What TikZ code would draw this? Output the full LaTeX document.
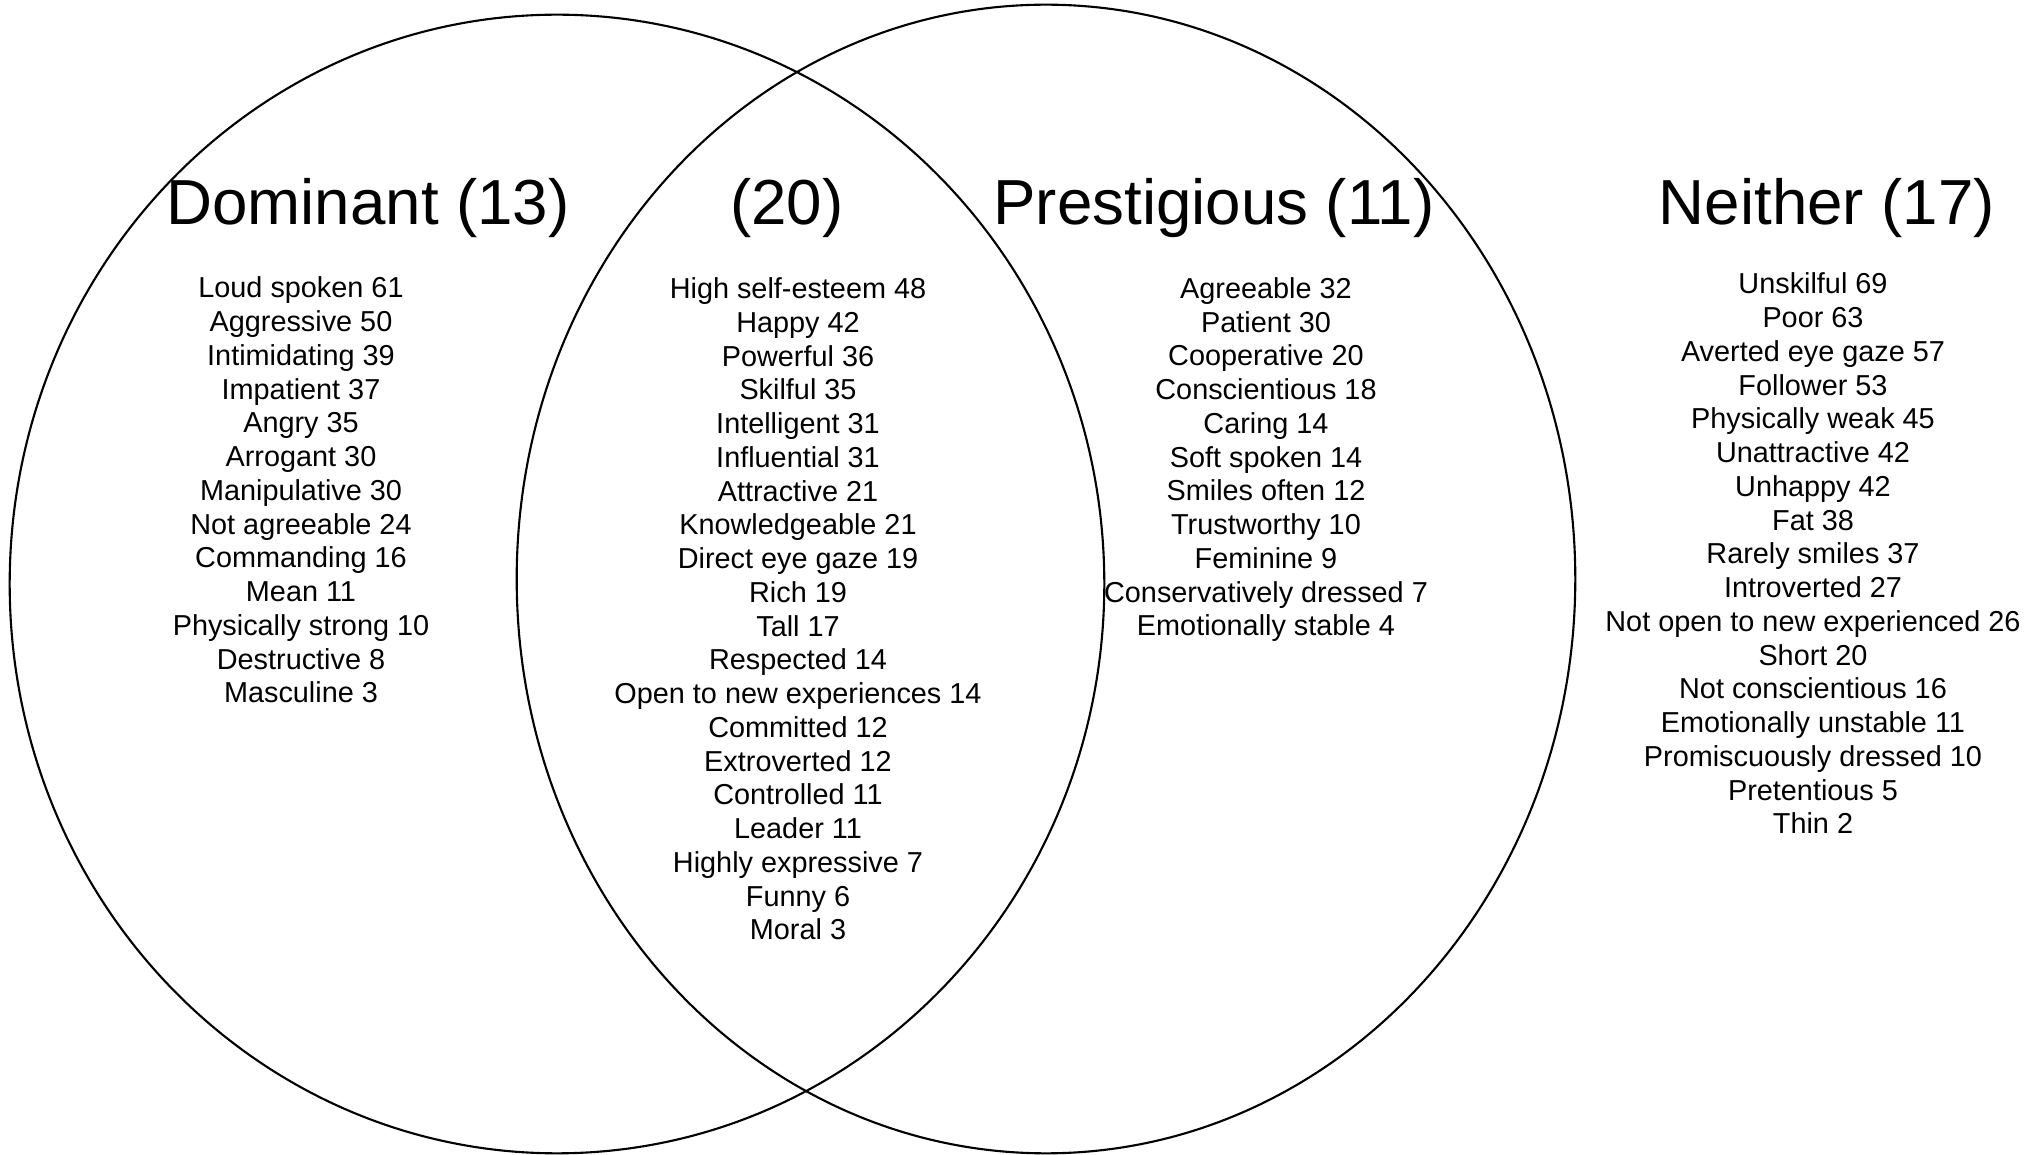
\documentclass[tikz,border=0pt]{standalone}
\usepackage{fontspec}
\setmainfont{Liberation Sans}
\usetikzlibrary{positioning}

\tikzset{
  settitle/.style={font=\fontsize{18.1}{21}\selectfont, anchor=base, inner sep=0pt},
  traitlist/.style={font=\fontsize{8.2}{9.6}\selectfont, align=center, anchor=base, inner sep=0pt},
  setring/.style={draw, line width=0.6pt}
}

\begin{document}
\begin{tikzpicture}[x=0.01cm, y=-0.01cm]
\useasboundingbox (0,0) rectangle (2035,1155);
% the two sets
\draw[setring] (557,584) ellipse [x radius=5.47cm, y radius=5.69cm];
\draw[setring] (1046,579) ellipse [x radius=5.29cm, y radius=5.74cm];

% headings
\node[settitle] (domtitle) at (368,225) {Dominant (13)};
\node[settitle] (bothtitle) at (787,225) {(20)};
\node[settitle] (prestitle) at (1214,225) {Prestigious (11)};
\node[settitle] (neithertitle) at (1827,225) {Neither (17)};

% traits (base = baseline of the last line)
\node[traitlist] (domlist) at (301,703) {
    Loud spoken 61 \\ Aggressive 50 \\ Intimidating 39 \\ Impatient 37 \\
    Angry 35 \\ Arrogant 30 \\ Manipulative 30 \\ Not agreeable 24 \\
    Commanding 16 \\ Mean 11 \\ Physically strong 10 \\ Destructive 8 \\
    Masculine 3
};
\node[traitlist] (bothlist) at (798,940) {
    High self-esteem 48 \\ Happy 42 \\ Powerful 36 \\ Skilful 35 \\
    Intelligent 31 \\ Influential 31 \\ Attractive 21 \\ Knowledgeable 21 \\
    Direct eye gaze 19 \\ Rich 19 \\ Tall 17 \\ Respected 14 \\
    Open to new experiences 14 \\ Committed 12 \\ Extroverted 12 \\
    Controlled 11 \\ Leader 11 \\ Highly expressive 7 \\ Funny 6 \\
    Moral 3
};
\node[traitlist] (preslist) at (1266,636) {
    Agreeable 32 \\ Patient 30 \\ Cooperative 20 \\ Conscientious 18 \\
    Caring 14 \\ Soft spoken 14 \\ Smiles often 12 \\ Trustworthy 10 \\
    Feminine 9 \\ Conservatively dressed 7 \\ Emotionally stable 4
};
\node[traitlist] (neitherlist) at (1813,834) {
    Unskilful 69 \\ Poor 63 \\ Averted eye gaze 57 \\ Follower 53 \\
    Physically weak 45 \\ Unattractive 42 \\ Unhappy 42 \\ Fat 38 \\
    Rarely smiles 37 \\ Introverted 27 \\ Not open to new experienced 26 \\
    Short 20 \\ Not conscientious 16 \\ Emotionally unstable 11 \\
    Promiscuously dressed 10 \\ Pretentious 5 \\ Thin 2
};
\end{tikzpicture}
\end{document}
